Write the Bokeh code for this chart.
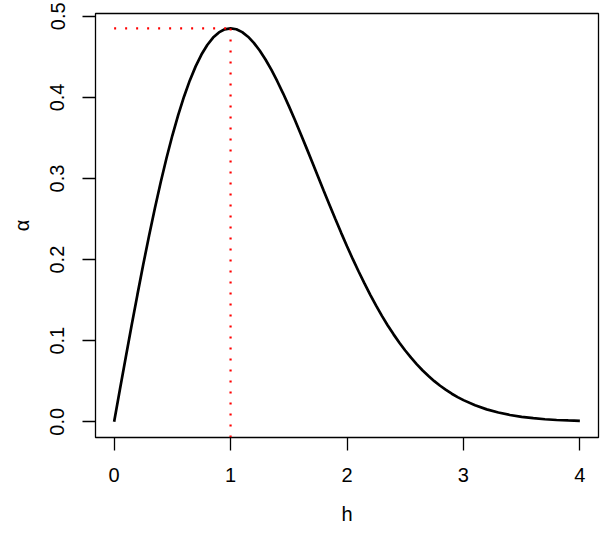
import math
from bokeh.plotting import figure
from bokeh.models import Range1d, FixedTicker, PrintfTickFormatter
from bokeh.embed import file_html
from bokeh.resources import INLINE

# data
h = [0.0, 0.05, 0.1, 0.15, 0.2, 0.25, 0.3, 0.35, 0.4, 0.45, 0.5,
     0.55, 0.6, 0.65, 0.7, 0.75, 0.8, 0.85, 0.9, 0.95, 1.0,
     1.05, 1.1, 1.15, 1.2, 1.25, 1.3, 1.35, 1.4, 1.45, 1.5,
     1.55, 1.6, 1.65, 1.7, 1.75, 1.8, 1.85, 1.9, 1.95, 2.0,
     2.05, 2.1, 2.15, 2.2, 2.25, 2.3, 2.35, 2.4, 2.45, 2.5,
     2.55, 2.6, 2.65, 2.7, 2.75, 2.8, 2.85, 2.9, 2.95, 3.0,
     3.1, 3.2, 3.3, 3.4, 3.5, 3.6, 3.7, 3.8, 3.9, 4.0]
alpha = [0.0, 0.0400, 0.0796, 0.1187, 0.1568, 0.1939, 0.2294, 0.2634, 0.2954, 0.3253, 0.3530,
         0.3782, 0.4009, 0.4210, 0.4383, 0.4529, 0.4647, 0.4738, 0.4802, 0.4840, 0.4852,
         0.4841, 0.4805, 0.4749, 0.4673, 0.4578, 0.4468, 0.4342, 0.4203, 0.4054, 0.3896,
         0.3730, 0.3559, 0.3384, 0.3206, 0.3028, 0.2850, 0.2674, 0.2500, 0.2330, 0.2165,
         0.2005, 0.1853, 0.1706, 0.1565, 0.1432, 0.1306, 0.1188, 0.1078, 0.0975, 0.0879,
         0.0790, 0.0708, 0.0633, 0.0565, 0.0501, 0.0444, 0.0393, 0.0346, 0.0304, 0.0267,
         0.0203, 0.0153, 0.0114, 0.0084, 0.0061, 0.0044, 0.0031, 0.0022, 0.0016, 0.0011]
x_ticks = [0, 1, 2, 3, 4]
y_ticks = [0.0, 0.1, 0.2, 0.3, 0.4, 0.5]
x_title = "h"
y_title = "α"

FONT = "Liberation Sans"
FS = "20px"

x_lo, x_hi = -0.16, 4.16
y_lo, y_hi = -0.0194, 0.5035

p = figure(width=600, height=534, output_backend="svg", toolbar_location=None,
           x_range=Range1d(x_lo, x_hi), y_range=Range1d(y_lo, y_hi),
           min_border_left=95, min_border_right=2, min_border_top=13, min_border_bottom=97)
p.grid.visible = False
p.outline_line_color = "black"
p.outline_line_width = 1.3
p.background_fill_color = "white"
p.border_fill_color = "white"

for ax in (p.xaxis[0], p.yaxis[0]):
    ax.axis_line_color = None
    ax.major_tick_out = 13
    ax.major_tick_in = 0
    ax.major_tick_line_width = 1.3
    ax.minor_tick_line_color = None
    ax.major_label_text_font = FONT
    ax.major_label_text_font_size = FS
    ax.major_label_text_color = "black"
    ax.axis_label_text_font = FONT
    ax.axis_label_text_font_size = FS
    ax.axis_label_text_font_style = "normal"
    ax.axis_label_text_color = "black"

p.xaxis.ticker = FixedTicker(ticks=x_ticks)
p.yaxis.ticker = FixedTicker(ticks=y_ticks)
p.yaxis.formatter = PrintfTickFormatter(format="%.1f")
p.yaxis.major_label_orientation = "parallel"
p.xaxis.major_label_standoff = 17
p.yaxis.major_label_standoff = 18
p.xaxis.axis_label = x_title
p.yaxis.axis_label = y_title
p.xaxis.axis_label_standoff = 18
p.yaxis.axis_label_standoff = 15
p.xaxis.axis_label_text_baseline = "middle"
p.yaxis.axis_label_text_baseline = "middle"

# curve
p.line(h, alpha, line_color="black", line_width=2.7)

# peak guides
i_pk = max(range(len(alpha)), key=lambda i: alpha[i])
h_pk, a_pk = h[i_pk], alpha[i_pk]
p.line([h[0], h_pk], [a_pk, a_pk], line_color="red", line_width=2.2, line_dash="2 9")
p.line([h_pk, h_pk], [y_lo, a_pk], line_color="red", line_width=2.2, line_dash="2 9")

open("out.html", "w").write(file_html(p, INLINE))
